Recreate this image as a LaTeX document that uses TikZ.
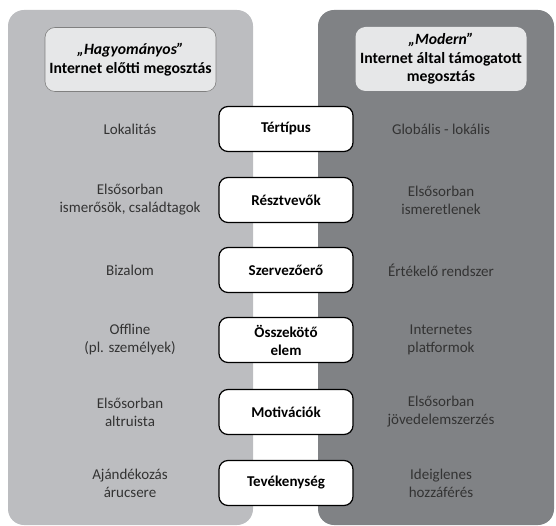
\documentclass[tikz,border=0pt]{standalone}
\usepackage{fontspec}
\setmainfont{Carlito}
\definecolor{lightpanel}{HTML}{BCBDC0}
\definecolor{darkpanel}{HTML}{808285}
\definecolor{headfill}{HTML}{E6E7E8}
\definecolor{sidetext}{HTML}{333333}
\begin{document}
\begin{tikzpicture}[x=1pt,y=-1pt,
    catbox/.style={draw=black, line width=1.2pt, fill=white, rounded corners=9pt,
      minimum width=134pt, minimum height=45pt, inner sep=0pt, align=center,
      font=\fontsize{15}{18}\selectfont\bfseries},
    sidetxt/.style={align=center, text=sidetext, font=\fontsize{15}{18}\selectfont},
    headbox/.style={fill=headfill, rounded corners=10pt, minimum width=171pt,
      minimum height=64pt, inner sep=0pt, align=center,
      font=\fontsize{15.7}{18.5}\selectfont\bfseries}]
  \useasboundingbox (0,0) rectangle (556,526);
  % the two panels
  \fill [lightpanel, rounded corners=16pt] (8,10) rectangle (253,525);
  \fill [darkpanel, rounded corners=16pt] (318,10) rectangle (554,525);
  % headers
  \node [headbox, draw=gray, line width=0.6pt] (oldhead) at (130.5,59.5)
    {\textit{„Hagyományos”}\\Internet előtti megosztás};
  \node [headbox] (newhead) at (441,59)
    {\textit{„Modern”}\\Internet által támogatott\\megosztás};
  % middle column
  \node [catbox] (space) at (286,129) {Tértípus};
  \node [catbox] (members) at (286,200) {Résztvevők};
  \node [catbox] (driver) at (286,270) {Szervezőerő};
  \node [catbox] (link) at (286,340) {Összekötő\\elem};
  \node [catbox] (motive) at (286,412) {Motivációk};
  \node [catbox] (activity) at (286,483) {Tevékenység};
  % left column
  \node [sidetxt] (oldspace) at (130,129) {Lokalitás};
  \node [sidetxt] (oldmembers) at (130,200) {Elsősorban\\ismerősök, családtagok};
  \node [sidetxt] (olddriver) at (130,270) {Bizalom};
  \node [sidetxt] (oldlink) at (130,340) {Offline\\(pl. személyek)};
  \node [sidetxt] (oldmotive) at (130,412) {Elsősorban\\altruista};
  \node [sidetxt] (oldactivity) at (130,483) {Ajándékozás\\árucsere};
  % right column
  \node [sidetxt] (newspace) at (441,129) {Globális - lokális};
  \node [sidetxt] (newmembers) at (441,200) {Elsősorban\\ismeretlenek};
  \node [sidetxt] (newdriver) at (441,270) {Értékelő rendszer};
  \node [sidetxt] (newlink) at (441,340) {Internetes\\platformok};
  \node [sidetxt] (newmotive) at (441,412) {Elsősorban\\jövedelemszerzés};
  \node [sidetxt] (newactivity) at (441,483) {Ideiglenes\\hozzáférés};
\end{tikzpicture}
\end{document}
